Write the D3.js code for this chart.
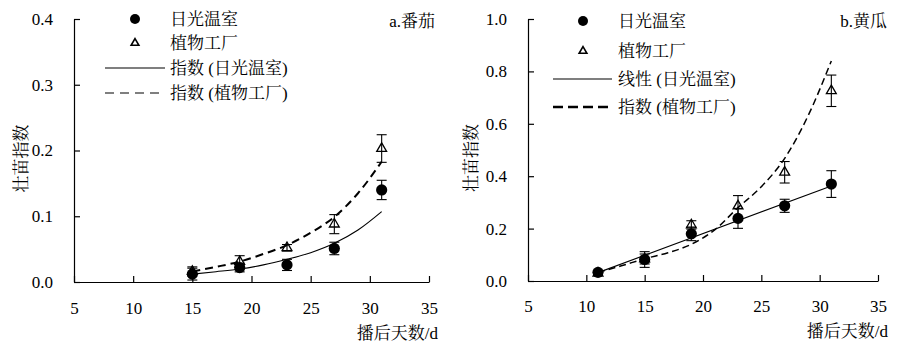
<!DOCTYPE html>
<html>
<head>
<meta charset="utf-8">
<script src="https://cdn.jsdelivr.net/npm/d3@7"></script>
<style>
  html, body { margin: 0; padding: 0; background: #fff; }
  svg { display: block; }
  svg text { fill: #000; font-family: "Liberation Serif" !important; font-size: 17px; }
  svg tspan.cjk { font-family: "Noto Serif CJK SC" !important; }
</style>
</head>
<body>
<svg id="chart" width="915" height="348"></svg>
<script>
// ---------- data ----------
const xTicks = [5, 10, 15, 20, 25, 30, 35];
const tomatoYTicks = [0, 0.1, 0.2, 0.3, 0.4];
const cucumberYTicks = [0, 0.2, 0.4, 0.6, 0.8, 1.0];

const seriesNames = ["日光温室", "植物工厂"];
const tomatoFitNames = ["指数 (日光温室)", "指数 (植物工厂)"];
const cucumberFitNames = ["线性 (日光温室)", "指数 (植物工厂)"];
const panelTitles = ["a.番茄", "b.黄瓜"];
const xTitle = "播后天数/d";
const yTitle = "壮苗指数";

// a. tomato
const tomatoDays = [15, 19, 23, 27, 31];
const tomatoGreenhouse = [0.012, 0.022, 0.026, 0.051, 0.140];
const tomatoGreenhouseErr = [0.009, 0.0066, 0.0085, 0.0095, 0.0147];
const tomatoFactory = [0.016, 0.031, 0.052, 0.088, 0.203];
const tomatoFactoryErr = [0.007, 0.009, 0.005, 0.0145, 0.021];
const tomatoFitDays = [15, 17, 19, 21, 23, 25, 27, 29, 31];
const tomatoGreenhouseFit = [0.012, 0.0157, 0.0198, 0.026, 0.0345, 0.0446, 0.0589, 0.079, 0.107];
const tomatoFactoryFit = [0.016, 0.023, 0.031, 0.0426, 0.056, 0.075, 0.099, 0.135, 0.183];

// b. cucumber
const cucumberDays = [11, 15, 19, 23, 27, 31];
const cucumberGreenhouse = [0.033, 0.082, 0.180, 0.239, 0.287, 0.370];
const cucumberGreenhouseErr = [0.008, 0.030, 0.026, 0.038, 0.025, 0.051];
const cucumberFactory = [0.030, 0.084, 0.214, 0.286, 0.415, 0.726];
const cucumberFactoryErr = [0.006, 0.019, 0.016, 0.040, 0.041, 0.060];
const cucumberLineDays = [11, 31];
const cucumberGreenhouseLine = [0.032, 0.363];
const cucumberFitDays = [11, 13, 15, 17, 19, 21, 23, 25, 27, 29, 31];
const cucumberFactoryFit = [0.033, 0.058, 0.085, 0.108, 0.140, 0.195, 0.280, 0.360, 0.468, 0.630, 0.840];

// ---------- drawing ----------
const LATIN = "Liberation Serif";
const CJK = "Noto Serif CJK SC";
const svg = d3.select("#chart");

function zip(xs, ys) { return xs.map((x, i) => [x, ys[i]]); }

// write mixed Chinese/Latin text as tspans, each run in its own font
const CJK_RE = /[\u3000-\u9fff\uff00-\uffef]/;
function mixedText(sel, str) {
  const runs = str.match(/[\u3000-\u9fff\uff00-\uffef]+|[^\u3000-\u9fff\uff00-\uffef]+/g) || [];
  sel.attr("font-family", LATIN).attr("font-size", 17);
  runs.forEach(r => {
    const isCjk = CJK_RE.test(r);
    sel.append("tspan").attr("class", isCjk ? "cjk" : "lat")
      .attr("font-family", isCjk ? CJK : LATIN).text(r);
  });
  return sel;
}

function drawPanel(cfg) {
  const x = d3.scaleLinear().domain([5, 35]).range([cfg.left, cfg.right]);
  const y = d3.scaleLinear().domain(cfg.yDomain).range([cfg.bottom, cfg.top]);
  const g = svg.append("g");

  // axes
  const ax = g.append("g").attr("transform", `translate(0,${cfg.bottom})`)
    .call(d3.axisBottom(x).tickValues(xTicks).tickSizeInner(-6).tickSizeOuter(0)
      .tickPadding(cfg.xPad).tickFormat(d3.format("d")));
  const ay = g.append("g").attr("transform", `translate(${cfg.left},0)`)
    .call(d3.axisLeft(y).tickValues(cfg.yTicks).tickSizeInner(-6).tickSizeOuter(0)
      .tickPadding(21).tickFormat(d3.format(".1f")));
  [ax, ay].forEach(a => {
    a.attr("font-family", LATIN).attr("font-size", 17);
    a.selectAll("path, line").attr("stroke", "#000").attr("stroke-width", 1.2);
    a.selectAll("text").attr("fill", "#000").attr("font-family", LATIN);
  });

  // axis titles
  mixedText(g.append("text").attr("x", cfg.xTitleX).attr("y", cfg.xTitleY).attr("text-anchor", "end"), xTitle);
  mixedText(g.append("text")
    .attr("transform", `translate(${cfg.yTitleX},${(cfg.top + cfg.bottom) / 2 + 8}) rotate(-90)`)
    .attr("text-anchor", "middle").attr("dy", "0.35em"), yTitle);

  // panel title
  mixedText(g.append("text").attr("x", cfg.titleX).attr("y", cfg.titleY).attr("text-anchor", "end"), cfg.title);

  const line = d3.line().x(d => x(d[0])).y(d => y(d[1])).curve(d3.curveMonotoneX);

  // fit lines
  g.append("path").datum(zip(cfg.fit1Days, cfg.fit1)).attr("d", line)
    .attr("fill", "none").attr("stroke", "#000").attr("stroke-width", 1.1);
  g.append("path").datum(zip(cfg.fit2Days, cfg.fit2)).attr("d", line)
    .attr("fill", "none").attr("stroke", "#000").attr("stroke-width", cfg.dashWidth)
    .attr("stroke-dasharray", cfg.dash);

  // error bars
  function errBars(days, vals, errs) {
    const eg = g.append("g").attr("stroke", "#000").attr("stroke-width", 1.1);
    days.forEach((d, i) => {
      const cx = x(d), y1 = y(vals[i] + errs[i]), y0 = y(vals[i] - errs[i]);
      eg.append("line").attr("x1", cx).attr("x2", cx).attr("y1", y1).attr("y2", y0);
      eg.append("line").attr("x1", cx - 5).attr("x2", cx + 5).attr("y1", y1).attr("y2", y1);
      eg.append("line").attr("x1", cx - 5).attr("x2", cx + 5).attr("y1", y0).attr("y2", y0);
    });
  }
  errBars(cfg.days, cfg.s1, cfg.s1Err);
  errBars(cfg.days, cfg.s2, cfg.s2Err);

  const tri = d3.symbol().type(d3.symbolTriangle).size(42);
  const triSmall = d3.symbol().type(d3.symbolTriangle).size(26);

  // markers
  g.selectAll(".c").data(zip(cfg.days, cfg.s1)).join("circle")
    .attr("cx", d => x(d[0])).attr("cy", d => y(d[1])).attr("r", 5.6).attr("fill", "#000");
  g.selectAll(".t").data(zip(cfg.days, cfg.s2)).join("path")
    .attr("d", tri).attr("transform", d => `translate(${x(d[0])},${y(d[1])})`)
    .attr("fill", "none").attr("stroke", "#000").attr("stroke-width", 1.3);

  // legend
  const L = cfg.legend;
  g.append("circle").attr("cx", L.markX).attr("cy", L.ys[0]).attr("r", 5).attr("fill", "#000");
  g.append("path").attr("d", triSmall).attr("transform", `translate(${L.markX},${L.ys[1]})`)
    .attr("fill", "none").attr("stroke", "#000").attr("stroke-width", 1.6);
  g.append("line").attr("x1", L.lineX0).attr("x2", L.lineX1).attr("y1", L.ys[2]).attr("y2", L.ys[2])
    .attr("stroke", "#000").attr("stroke-width", 1.1);
  g.append("line").attr("x1", L.lineX0).attr("x2", L.lineX1).attr("y1", L.ys[3]).attr("y2", L.ys[3])
    .attr("stroke", "#000").attr("stroke-width", L.dashWidth).attr("stroke-dasharray", L.dash);
  const labels = [seriesNames[0], seriesNames[1], cfg.fitNames[0], cfg.fitNames[1]];
  labels.forEach((t, i) => {
    mixedText(g.append("text").attr("x", L.textX).attr("y", L.ys[i]).attr("dy", "0.36em"), t);
  });
}

drawPanel({
  left: 74, right: 429, top: 19, bottom: 282, yDomain: [0, 0.4], yTicks: tomatoYTicks, xPad: 19.5,
  xTitleX: 438, xTitleY: 339, yTitleX: 21, titleX: 435, titleY: 27, title: panelTitles[0],
  days: tomatoDays, s1: tomatoGreenhouse, s1Err: tomatoGreenhouseErr, s2: tomatoFactory, s2Err: tomatoFactoryErr,
  fit1Days: tomatoFitDays, fit1: tomatoGreenhouseFit, fit2Days: tomatoFitDays, fit2: tomatoFactoryFit,
  dash: "8,5", dashWidth: 2, fitNames: tomatoFitNames,
  legend: { markX: 135, textX: 170, lineX0: 105, lineX1: 165, ys: [19, 43, 68, 93], dash: "9,6", dashWidth: 1.1 }
});

drawPanel({
  left: 528, right: 878, top: 19, bottom: 281, yDomain: [0, 1.0], yTicks: cucumberYTicks, xPad: 18.5,
  xTitleX: 888, xTitleY: 337, yTitleX: 471, titleX: 887, titleY: 27, title: panelTitles[1],
  days: cucumberDays, s1: cucumberGreenhouse, s1Err: cucumberGreenhouseErr, s2: cucumberFactory, s2Err: cucumberFactoryErr,
  fit1Days: cucumberLineDays, fit1: cucumberGreenhouseLine, fit2Days: cucumberFitDays, fit2: cucumberFactoryFit,
  dash: "7,4", dashWidth: 1.5, fitNames: cucumberFitNames,
  legend: { markX: 583, textX: 618, lineX0: 553, lineX1: 612, ys: [21, 51, 79, 107], dash: "10,5", dashWidth: 2.6 }
});
</script>
</body>
</html>
